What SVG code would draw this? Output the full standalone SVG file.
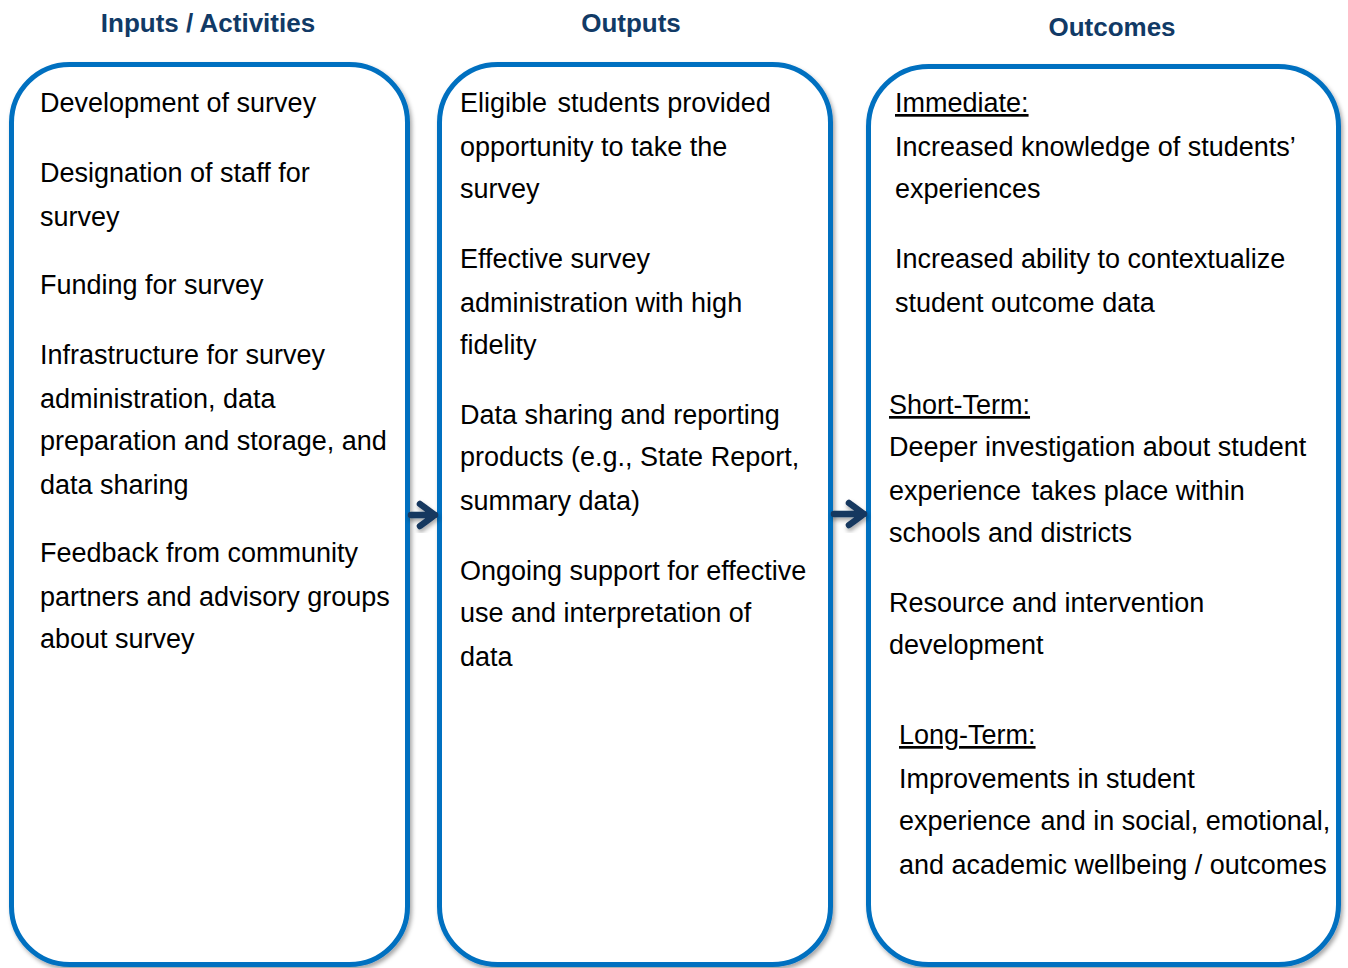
<svg xmlns="http://www.w3.org/2000/svg" width="1348" height="968" viewBox="0 0 1348 968">
<defs>
<filter id="sh" x="-5%" y="-5%" width="110%" height="110%">
<feDropShadow dx="2" dy="3" stdDeviation="2" flood-color="#000" flood-opacity="0.35"/>
</filter>
<filter id="ash" x="-30%" y="-30%" width="160%" height="160%">
<feDropShadow dx="1" dy="3" stdDeviation="2" flood-color="#000" flood-opacity="0.35"/>
</filter>
<style>
.box{fill:#fff;stroke:#0070c0;stroke-width:5}
.t{font-family:"Liberation Sans",Arial,sans-serif;font-size:27px;fill:#000}
.h{font-family:"Liberation Sans",Arial,sans-serif;font-size:26px;font-weight:bold;fill:#113a66;text-anchor:middle}
.u{text-decoration:underline}
.arr{fill:none;stroke:#17375e;stroke-width:6.5;stroke-linecap:round;stroke-linejoin:round}
</style>
</defs>
<rect width="1348" height="968" fill="#fff"/>

<g id="inputs">
<text class="h" x="208" y="32">Inputs / Activities</text>
<rect class="box" x="11.5" y="64.5" width="396" height="900" rx="58" ry="58" filter="url(#sh)"/>
<text class="t" x="40" y="112">Development of survey</text>
<text class="t" x="40" y="182">Designation of staff for</text>
<text class="t" x="40" y="226">survey</text>
<text class="t" x="40" y="294">Funding for survey</text>
<text class="t" x="40" y="364">Infrastructure for survey</text>
<text class="t" x="40" y="408">administration, data</text>
<text class="t" x="40" y="450">preparation and storage, and</text>
<text class="t" x="40" y="494">data sharing</text>
<text class="t" x="40" y="562">Feedback from community</text>
<text class="t" x="40" y="606">partners and advisory groups</text>
<text class="t" x="40" y="648">about survey</text>
</g>

<g id="outputs">
<text class="h" x="631" y="32">Outputs</text>
<rect class="box" x="439.5" y="64.5" width="391" height="900" rx="58" ry="58" filter="url(#sh)"/>
<text class="t" x="460" y="112">Eligible <tspan dx="3">students provided</tspan></text>
<text class="t" x="460" y="156">opportunity to take the</text>
<text class="t" x="460" y="198">survey</text>
<text class="t" x="460" y="268">Effective survey</text>
<text class="t" x="460" y="312">administration with high</text>
<text class="t" x="460" y="354">fidelity</text>
<text class="t" x="460" y="424">Data sharing and reporting</text>
<text class="t" x="460" y="466">products (e.g., State Report,</text>
<text class="t" x="460" y="510">summary data)</text>
<text class="t" x="460" y="580">Ongoing support for effective</text>
<text class="t" x="460" y="622">use and interpretation of</text>
<text class="t" x="460" y="666">data</text>
</g>

<g id="outcomes">
<text class="h" x="1112" y="36">Outcomes</text>
<rect class="box" x="868.5" y="66.5" width="470" height="898" rx="60" ry="60" filter="url(#sh)"/>
<text class="t u" x="895" y="112">Immediate:</text>
<text class="t" x="895" y="156">Increased knowledge of students’</text>
<text class="t" x="895" y="198">experiences</text>
<text class="t" x="895" y="268">Increased ability to contextualize</text>
<text class="t" x="895" y="312">student outcome data</text>
<text class="t u" x="889" y="414">Short-Term:</text>
<text class="t" x="889" y="456">Deeper investigation about student</text>
<text class="t" x="889" y="500">experience <tspan dx="3">takes place within</tspan></text>
<text class="t" x="889" y="542">schools and districts</text>
<text class="t" x="889" y="612">Resource and intervention</text>
<text class="t" x="889" y="654">development</text>
<text class="t u" x="899" y="744">Long-Term:</text>
<text class="t" x="899" y="788">Improvements in student</text>
<text class="t" x="899" y="830">experience <tspan dx="2">and in social, emotional,</tspan></text>
<text class="t" x="899" y="874">and academic wellbeing / outcomes</text>
</g>

<g id="connectors" filter="url(#ash)">
<path class="arr" d="M411 515 H435 M420 504 L435 515 L420 526"/>
<path class="arr" d="M834 514 H864 M849 503 L864 514 L849 525"/>
</g>
</svg>
